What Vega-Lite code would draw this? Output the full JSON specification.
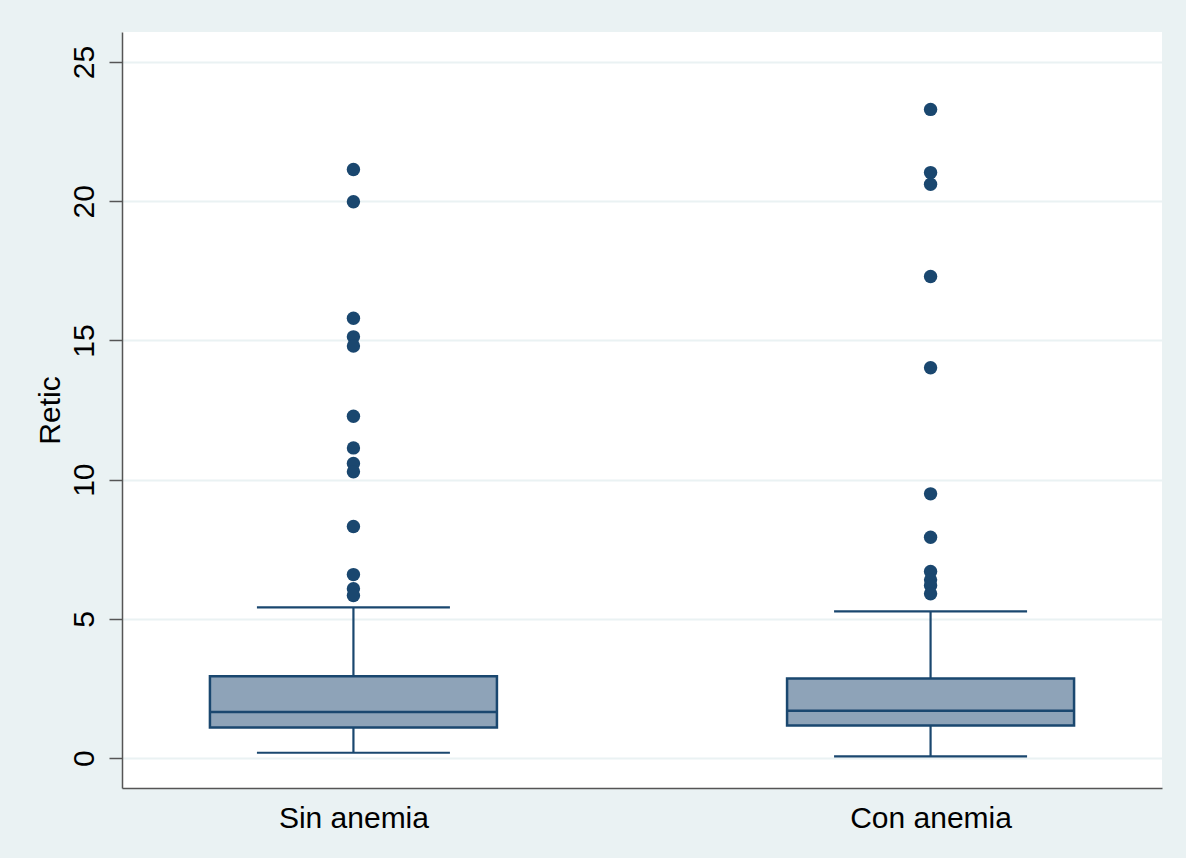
{
  "$schema": "https://vega.github.io/schema/vega-lite/v6.json",
  "width": 1040,
  "height": 756,
  "autosize": {"type": "none"},
  "padding": {"left": 122, "top": 32, "right": 24, "bottom": 70},
  "background": "#EAF2F3",
  "config": {
    "view": {"stroke": null, "fill": "white"},
    "font": "Liberation Sans",
    "axis": {
      "labelFont": "Liberation Sans",
      "titleFont": "Liberation Sans",
      "labelColor": "black",
      "titleColor": "black",
      "labelFontSize": 30,
      "titleFontSize": 30,
      "titleFontWeight": "normal"
    }
  },
  "datasets": {
    "stats": [
      {"grupo": "Sin anemia", "lower": 0.19, "q1": 1.10, "median": 1.65, "q3": 2.94, "upper": 5.41},
      {"grupo": "Con anemia", "lower": 0.06, "q1": 1.17, "median": 1.70, "q3": 2.86, "upper": 5.27}
    ],
    "outliers": [
      {"grupo": "Sin anemia", "retic": 21.14},
      {"grupo": "Sin anemia", "retic": 19.98},
      {"grupo": "Sin anemia", "retic": 15.80},
      {"grupo": "Sin anemia", "retic": 15.13},
      {"grupo": "Sin anemia", "retic": 14.80},
      {"grupo": "Sin anemia", "retic": 12.28},
      {"grupo": "Sin anemia", "retic": 11.14},
      {"grupo": "Sin anemia", "retic": 10.58},
      {"grupo": "Sin anemia", "retic": 10.28},
      {"grupo": "Sin anemia", "retic": 8.32},
      {"grupo": "Sin anemia", "retic": 6.59},
      {"grupo": "Sin anemia", "retic": 6.08},
      {"grupo": "Sin anemia", "retic": 5.84},
      {"grupo": "Con anemia", "retic": 23.30},
      {"grupo": "Con anemia", "retic": 21.03},
      {"grupo": "Con anemia", "retic": 20.61},
      {"grupo": "Con anemia", "retic": 17.30},
      {"grupo": "Con anemia", "retic": 14.02},
      {"grupo": "Con anemia", "retic": 9.49},
      {"grupo": "Con anemia", "retic": 7.93},
      {"grupo": "Con anemia", "retic": 6.70},
      {"grupo": "Con anemia", "retic": 6.40},
      {"grupo": "Con anemia", "retic": 6.20},
      {"grupo": "Con anemia", "retic": 5.90}
    ]
  },
  "encoding": {
    "x": {
      "field": "grupo",
      "type": "nominal",
      "sort": ["Sin anemia", "Con anemia"],
      "scale": {"type": "point", "domain": ["Sin anemia", "Con anemia"], "padding": 0.401},
      "axis": {
        "title": null,
        "labelAngle": 0,
        "labelBaseline": "alphabetic",
        "labelPadding": 39,
        "ticks": false,
        "tickSize": 0,
        "grid": false,
        "domainColor": "#555555",
        "domainWidth": 1.5
      }
    }
  },
  "layer": [
    {
      "data": {"name": "stats"},
      "mark": {"type": "rule", "color": "#1A476F", "strokeWidth": 2.2},
      "encoding": {
        "y": {
          "field": "lower",
          "type": "quantitative",
          "scale": {"domain": [-1.076, 26.08], "nice": false, "zero": false},
          "axis": {
            "title": "Retic",
            "values": [0, 5, 10, 15, 20, 25],
            "labelAngle": -90,
            "labelAlign": "center",
            "labelBaseline": "alphabetic",
            "labelPadding": 16,
            "tickSize": 13,
            "tickWidth": 1.5,
            "tickColor": "#555555",
            "domainColor": "#555555",
            "domainWidth": 1.5,
            "gridColor": "#EAF2F3",
            "gridWidth": 2,
            "titlePadding": 4
          }
        },
        "y2": {"field": "upper"}
      }
    },
    {
      "data": {"name": "stats"},
      "mark": {"type": "tick", "orient": "horizontal", "color": "#1A476F", "thickness": 2.2, "opacity": 1},
      "encoding": {
        "y": {"field": "lower", "type": "quantitative"},
        "size": {"value": 193}
      }
    },
    {
      "data": {"name": "stats"},
      "mark": {"type": "tick", "orient": "horizontal", "color": "#1A476F", "thickness": 2.2, "opacity": 1},
      "encoding": {
        "y": {"field": "upper", "type": "quantitative"},
        "size": {"value": 193}
      }
    },
    {
      "data": {"name": "stats"},
      "mark": {"type": "bar", "width": 287, "fill": "#8EA3B8", "stroke": "#1A476F", "strokeWidth": 2.5, "opacity": 1},
      "encoding": {
        "y": {"field": "q1", "type": "quantitative"},
        "y2": {"field": "q3"}
      }
    },
    {
      "data": {"name": "stats"},
      "mark": {"type": "tick", "orient": "horizontal", "color": "#1A476F", "thickness": 2.5, "opacity": 1},
      "encoding": {
        "y": {"field": "median", "type": "quantitative"},
        "size": {"value": 287}
      }
    },
    {
      "data": {"name": "outliers"},
      "mark": {"type": "circle", "color": "#1A476F", "size": 180, "opacity": 1},
      "encoding": {
        "y": {"field": "retic", "type": "quantitative"}
      }
    }
  ]
}
